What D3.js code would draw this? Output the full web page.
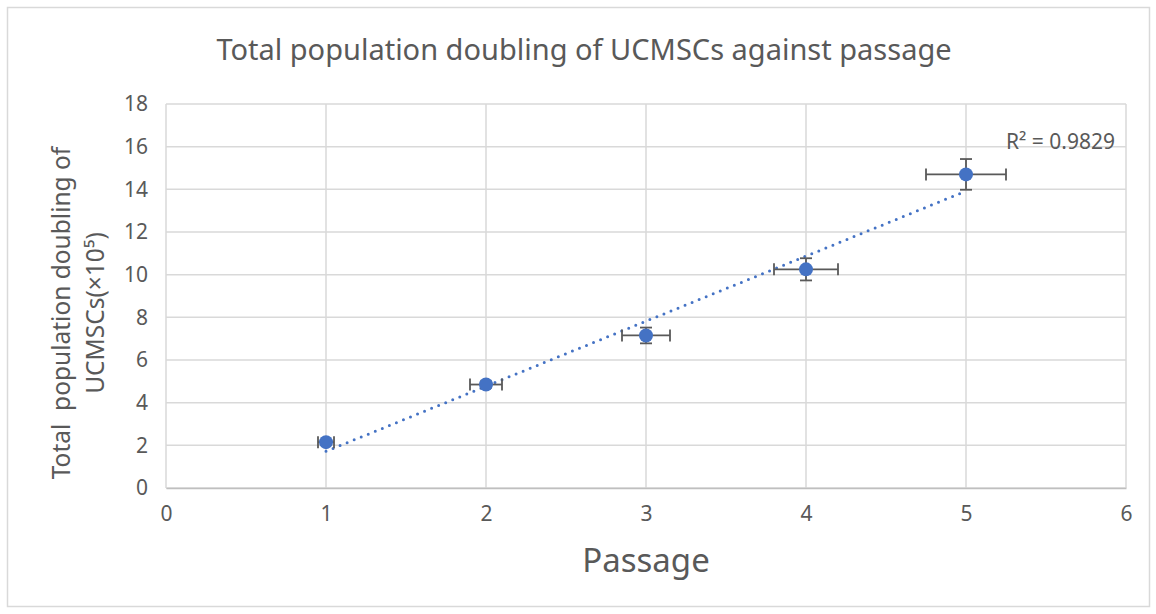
<!DOCTYPE html>
<html>
<head>
<meta charset="utf-8">
<script src="https://cdn.jsdelivr.net/npm/d3@7"></script>
<style>
  html, body { margin: 0; padding: 0; background: #fff; }
  text { font-family: "Noto Sans", "DejaVu Sans", sans-serif; fill: #595959; white-space: pre; }
</style>
</head>
<body>
<svg id="chart" width="1156" height="614"></svg>
<script>
// ---- data ----
const passages = [1, 2, 3, 4, 5];
const doublings = [2.15, 4.85, 7.15, 10.25, 14.7];
const yErrors = [0.1, 0.15, 0.37, 0.52, 0.72];
const xErrors = [0.05, 0.1, 0.15, 0.2, 0.25];
const xTicks = [0, 1, 2, 3, 4, 5, 6];
const yTicks = [0, 2, 4, 6, 8, 10, 12, 14, 16, 18];
const titleText = "Total population doubling of UCMSCs against passage";
const xTitle = "Passage";
const yTitleLines = ["Total  population doubling of", "UCMSCs(\u00d710\u2075)"];
const r2Label = "R\u00b2 = 0.9829";

const svg = d3.select("#chart");
const plot = { left: 166, right: 1126, top: 104, bottom: 488 };

// outer border
svg.append("rect").attr("x", 7.5).attr("y", 7.5).attr("width", 1142).attr("height", 599)
  .attr("fill", "#fff").attr("stroke", "#d9d9d9").attr("stroke-width", 1.5);

const x = d3.scaleLinear().domain([0, 6]).range([plot.left, plot.right]);
const y = d3.scaleLinear().domain([0, 18]).range([plot.bottom, plot.top]);

// gridlines
const g = svg.append("g");
g.selectAll("line.hgrid").data(yTicks).join("line").attr("class", "hgrid")
  .attr("x1", plot.left).attr("x2", plot.right)
  .attr("y1", d => y(d)).attr("y2", d => y(d))
  .attr("stroke", "#d9d9d9").attr("stroke-width", 1.5);
g.selectAll("line.vgrid").data(xTicks).join("line").attr("class", "vgrid")
  .attr("y1", plot.top).attr("y2", plot.bottom)
  .attr("x1", d => x(d)).attr("x2", d => x(d))
  .attr("stroke", "#d9d9d9").attr("stroke-width", 1.5);

// x axis
const xAxis = d3.axisBottom(x).tickValues(xTicks).tickSize(0).tickPadding(18).tickFormat(d3.format("d"));
const xa = svg.append("g").attr("transform", `translate(0,${plot.bottom})`).call(xAxis);
xa.select(".domain").attr("stroke", "#bfbfbf").attr("stroke-width", 1.5);
xa.selectAll("text").style("font-size", "21px").attr("fill", "#595959")
  .style("font-family", '"Noto Sans", sans-serif');

// y axis
const yAxis = d3.axisLeft(y).tickValues(yTicks).tickSize(0).tickPadding(18).tickFormat(d3.format("d"));
const ya = svg.append("g").attr("transform", `translate(${plot.left},0)`).call(yAxis);
ya.select(".domain").remove();
ya.selectAll("text").style("font-size", "21px").attr("fill", "#595959")
  .style("font-family", '"Noto Sans", sans-serif');

// trendline (least squares)
const mx = d3.mean(passages), my = d3.mean(doublings);
let sxy = 0, sxx = 0;
passages.forEach((p, i) => { sxy += (p - mx) * (doublings[i] - my); sxx += (p - mx) ** 2; });
const slope = sxy / sxx, intercept = my - slope * mx;
const xMin = d3.min(passages), xMax = d3.max(passages);
svg.append("line")
  .attr("x1", x(xMin)).attr("y1", y(intercept + slope * xMin))
  .attr("x2", x(xMax)).attr("y2", y(intercept + slope * xMax))
  .attr("stroke", "#4472C4").attr("stroke-width", 3)
  .attr("stroke-linecap", "round").attr("stroke-dasharray", "0 7.6");

// error bars
const eb = svg.append("g").attr("stroke", "#595959").attr("stroke-width", 1.8).attr("fill", "none");
const cap = 6;
passages.forEach((p, i) => {
  const cx = x(p), cy = y(doublings[i]);
  const x0 = x(p - xErrors[i]), x1 = x(p + xErrors[i]);
  const y0 = y(doublings[i] - yErrors[i]), y1 = y(doublings[i] + yErrors[i]);
  eb.append("line").attr("x1", x0).attr("x2", x1).attr("y1", cy).attr("y2", cy);
  eb.append("line").attr("x1", x0).attr("x2", x0).attr("y1", cy - cap).attr("y2", cy + cap);
  eb.append("line").attr("x1", x1).attr("x2", x1).attr("y1", cy - cap).attr("y2", cy + cap);
  eb.append("line").attr("x1", cx).attr("x2", cx).attr("y1", y0).attr("y2", y1);
  eb.append("line").attr("x1", cx - cap).attr("x2", cx + cap).attr("y1", y0).attr("y2", y0);
  eb.append("line").attr("x1", cx - cap).attr("x2", cx + cap).attr("y1", y1).attr("y2", y1);
});

// points
svg.append("g").selectAll("circle").data(passages).join("circle")
  .attr("cx", d => x(d)).attr("cy", (d, i) => y(doublings[i])).attr("r", 7)
  .attr("fill", "#4472C4");

// R² label
svg.append("text").attr("x", 1115).attr("y", 149).attr("text-anchor", "end")
  .style("font-size", "21px").text(r2Label);

// title
svg.append("text").attr("x", 584).attr("y", 60).attr("text-anchor", "middle")
  .style("font-size", "29px").text(titleText);

// x title
svg.append("text").attr("x", 646).attr("y", 572).attr("text-anchor", "middle")
  .style("font-size", "33px").text(xTitle);

// y title
const yt = svg.append("text").attr("transform", "translate(70,313) rotate(-90)")
  .attr("text-anchor", "middle").style("font-size", "24.5px");
yt.append("tspan").attr("x", 0).attr("dy", 0).text(yTitleLines[0]);
yt.append("tspan").attr("x", 0).attr("dy", 34).text(yTitleLines[1]);
</script>
</body>
</html>
